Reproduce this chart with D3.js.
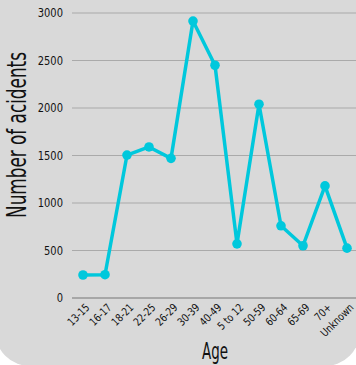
<!DOCTYPE html>
<html>
<head>
<meta charset="utf-8">
<script src="https://cdnjs.cloudflare.com/ajax/libs/d3/7.8.5/d3.min.js"></script>
<style>
body { margin: 0; background: #fff; }
text { font-family: "DejaVu Sans Condensed", "DejaVu Sans", sans-serif; font-stretch: condensed; fill: #111; }
</style>
</head>
<body>
<script>
var ages = ["13-15", "16-17", "18-21", "22-25", "26-29", "30-39", "40-49", "5 to 12", "50-59", "60-64", "65-69", "70+", "Unknown"];
var accidents = [242, 245, 1505, 1590, 1470, 2915, 2450, 570, 2040, 760, 550, 1180, 525];
var yTicks = [0, 500, 1000, 1500, 2000, 2500, 3000];

var width = 356, height = 365;

var svg = d3.select("body").append("svg")
  .attr("width", width)
  .attr("height", height);

// grey panel, rounded at the bottom
svg.append("rect")
  .attr("x", -5).attr("y", -50)
  .attr("width", 365).attr("height", 416)
  .attr("rx", 35)
  .attr("fill", "#d9d9d9");

var x = d3.scalePoint().domain(ages).range([83, 347]);
var y = d3.scaleLinear().domain([0, 3000]).range([298, 13]);

// gridlines
svg.selectAll(".grid")
  .data(yTicks)
  .enter().append("line")
  .attr("x1", 72).attr("x2", width)
  .attr("y1", function(d) { return y(d); })
  .attr("y2", function(d) { return y(d); })
  .attr("stroke", function(d) { return d === 0 ? "#777" : "#aaa"; })
  .attr("stroke-width", 1.2);

// y tick labels
var yAxis = d3.axisLeft(y).tickValues(yTicks).tickFormat(d3.format("d")).tickSize(0).tickPadding(0);
var gy = svg.append("g").attr("transform", "translate(63,0)").call(yAxis);
gy.select(".domain").remove();
gy.selectAll("text")
  .style("font-size", "12px")
  .style("font-family", null)
  .attr("fill", "#111")
  .attr("transform", "scale(0.92,1)");

// x tick labels
var xAxis = d3.axisBottom(x).tickSize(0).tickPadding(0);
var gx = svg.append("g").attr("transform", "translate(0,304)").call(xAxis);
gx.select(".domain").remove();
gx.selectAll("text")
  .style("font-size", "11px")
  .style("font-family", null)
  .attr("fill", "#111")
  .attr("text-anchor", "end")
  .attr("dy", "0.35em")
  .attr("x", 2).attr("y", 4)
  .attr("transform", "rotate(-45) scale(0.9,1)");

// line
var line = d3.line()
  .x(function(d, i) { return x(ages[i]); })
  .y(function(d) { return y(d); });

svg.append("path")
  .datum(accidents)
  .attr("d", line)
  .attr("fill", "none")
  .attr("stroke", "#00c8dc")
  .attr("stroke-width", 3.5)
  .attr("stroke-linejoin", "round");

svg.selectAll(".dot")
  .data(accidents)
  .enter().append("circle")
  .attr("cx", function(d, i) { return x(ages[i]); })
  .attr("cy", function(d) { return y(d); })
  .attr("r", 4.8)
  .attr("fill", "#00c8dc");

// axis titles
var yt = svg.append("text")
  .attr("text-anchor", "middle")
  .style("font-size", "26px")
  .text("Number of acidents");
var ytw = yt.node().getComputedTextLength();
yt.attr("transform", "translate(26,135) rotate(-90) scale(" + (166 / ytw) + ",1)");

var xt = svg.append("text")
  .attr("text-anchor", "middle")
  .style("font-size", "23px")
  .text("Age");
var xtw = xt.node().getComputedTextLength();
xt.attr("transform", "translate(215,359) scale(" + (26 / xtw) + ",1)");
</script>
</body>
</html>
